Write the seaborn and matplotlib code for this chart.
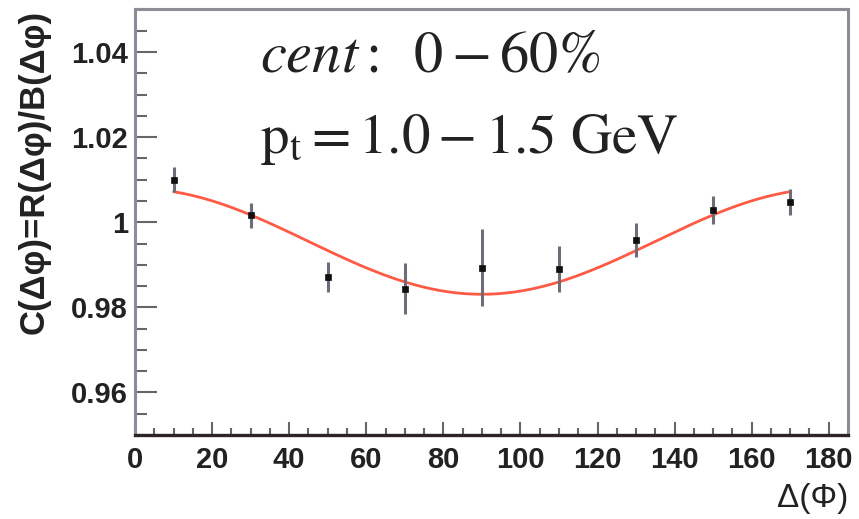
import numpy as np
import pandas as pd
import seaborn as sns
import matplotlib.pyplot as plt
from matplotlib.ticker import MultipleLocator

# measured correlation points
dphi = [10, 30, 50, 70, 90, 110, 130, 150, 170]
corr = [1.0100, 1.0016, 0.9871, 0.9844, 0.9893, 0.9891, 0.9958, 1.0028, 1.0048]
corr_err = [0.0030, 0.0030, 0.0036, 0.0060, 0.0090, 0.0054, 0.0040, 0.0033, 0.0030]

# fit C = a + b*cos(2*dphi)
fit_a = 0.9955
fit_b = 0.01243
fit_range = (10, 170)

sns.set_theme(style="white")
plt.rcParams['mathtext.fontset'] = 'stix'
plt.rcParams['font.family'] = ['Liberation Sans', 'DejaVu Sans']

fig = plt.figure(figsize=(8.59, 5.19), dpi=100)
ax = fig.add_axes([0.1572, 0.1618, 0.8300, 0.8200])

xs = np.linspace(fit_range[0], fit_range[1], 300)
fit_df = pd.DataFrame({"x": xs, "y": fit_a + fit_b * np.cos(np.radians(2 * xs))})
sns.lineplot(data=fit_df, x="x", y="y", ax=ax, color="#ff5a44", linewidth=2.0, zorder=2)

ax.errorbar(dphi, corr, yerr=corr_err, fmt="none", ecolor="#6e6c76",
            elinewidth=2.2, capsize=0, zorder=3)
pts = pd.DataFrame({"x": dphi, "y": corr})
sns.scatterplot(data=pts, x="x", y="y", ax=ax, marker="s", s=16, color="#111111",
                edgecolor="#111111", linewidth=0.5, zorder=4)

ax.set_xlim(0, 185)
ax.set_ylim(0.95, 1.05)
ax.xaxis.set_major_locator(MultipleLocator(20))
ax.xaxis.set_minor_locator(MultipleLocator(5))
ax.yaxis.set_major_locator(MultipleLocator(0.02))
ax.yaxis.set_minor_locator(MultipleLocator(0.005))
ax.set_yticks([0.96, 0.98, 1.0, 1.02, 1.04])
ax.set_yticklabels(["0.96", "0.98", "1", "1.02", "1.04"])

ax.tick_params(axis="x", which="major", direction="in", length=9.5, width=1.5,
               color="#6a6468", labelsize=21, labelcolor="#222222", pad=8,
               bottom=True, top=False)
ax.tick_params(axis="x", which="minor", direction="in", length=5, width=1.5,
               color="#6a6468", bottom=True, top=False)
ax.tick_params(axis="y", which="major", direction="in", length=16, width=1.5,
               color="#6a6468", labelsize=21, labelcolor="#222222", pad=5,
               left=True, right=False)
ax.tick_params(axis="y", which="minor", direction="in", length=8.5, width=1.5,
               color="#6a6468", left=True, right=False)
for lab in ax.get_xticklabels() + ax.get_yticklabels():
    lab.set_fontweight("bold")

for side in ["left", "top", "right"]:
    ax.spines[side].set_color("#8e8c96")
    ax.spines[side].set_linewidth(2.2)
ax.spines["bottom"].set_color("#2c2426")
ax.spines["bottom"].set_linewidth(2.4)

ax.set_xlabel("Δ(Φ)", fontsize=24, color="#222222", loc="right")
ax.xaxis.set_label_coords(1.0, -0.113)
ax.xaxis.label.set_horizontalalignment("right")
ax.set_ylabel("C(Δφ)=R(Δφ)/B(Δφ)", fontsize=25, fontweight="bold",
              color="#222222", loc="top")
ax.yaxis.set_label_coords(-0.118, 1.0)

ax.text(0.175, 0.853, r"$\mathit{cent}:\;\;0-60\%$", transform=ax.transAxes,
        fontsize=42, color="#222222", va="baseline", ha="left")
ax.text(0.175, 0.663, r"$\mathrm{p_t = 1.0-1.5\ GeV}$", transform=ax.transAxes,
        fontsize=41, color="#222222", va="baseline", ha="left")

fig.savefig("out.png", dpi=100)
